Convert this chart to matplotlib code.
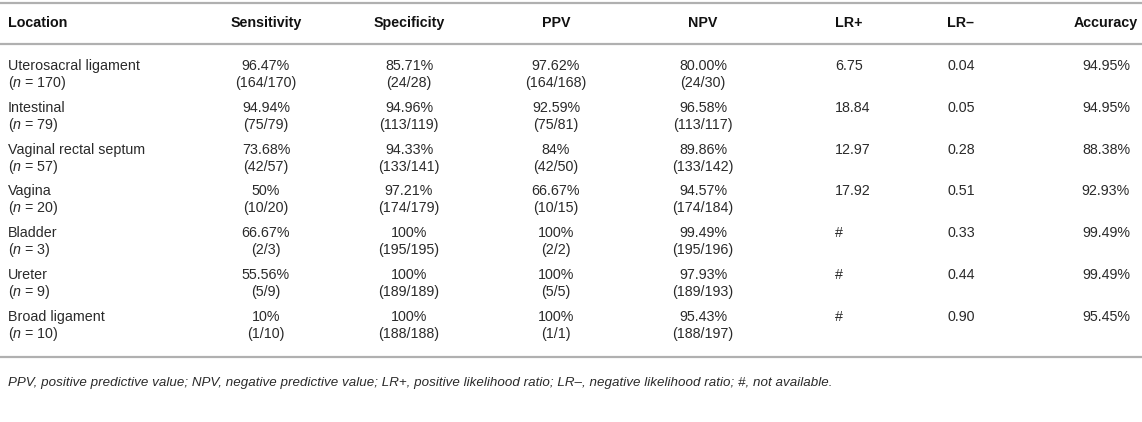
import matplotlib
matplotlib.use("Agg")
import matplotlib.pyplot as plt

plt.rcParams['font.family'] = ['Liberation Sans', 'DejaVu Sans']
plt.rcParams['mathtext.fontset'] = 'custom'
plt.rcParams['mathtext.rm'] = 'Liberation Sans'
plt.rcParams['mathtext.it'] = 'Liberation Sans:italic'

# ---- data ----
headers = ["Location", "Sensitivity", "Specificity", "PPV", "NPV", "LR+", "LR\u2013", "Accuracy"]
locations = ["Uterosacral ligament", "Intestinal", "Vaginal rectal septum", "Vagina",
             "Bladder", "Ureter", "Broad ligament"]
n_values = [170, 79, 57, 20, 3, 9, 10]
sensitivity = ["96.47%", "94.94%", "73.68%", "50%", "66.67%", "55.56%", "10%"]
sensitivity_frac = ["164/170", "75/79", "42/57", "10/20", "2/3", "5/9", "1/10"]
specificity = ["85.71%", "94.96%", "94.33%", "97.21%", "100%", "100%", "100%"]
specificity_frac = ["24/28", "113/119", "133/141", "174/179", "195/195", "189/189", "188/188"]
ppv = ["97.62%", "92.59%", "84%", "66.67%", "100%", "100%", "100%"]
ppv_frac = ["164/168", "75/81", "42/50", "10/15", "2/2", "5/5", "1/1"]
npv = ["80.00%", "96.58%", "89.86%", "94.57%", "99.49%", "97.93%", "95.43%"]
npv_frac = ["24/30", "113/117", "133/142", "174/184", "195/196", "189/193", "188/197"]
lr_pos = ["6.75", "18.84", "12.97", "17.92", "#", "#", "#"]
lr_neg = ["0.04", "0.05", "0.28", "0.51", "0.33", "0.44", "0.90"]
accuracy = ["94.95%", "94.95%", "88.38%", "92.93%", "99.49%", "99.49%", "95.45%"]
footnote = ("PPV, positive predictive value; NPV, negative predictive value; "
            "LR+, positive likelihood ratio; LR\u2013, negative likelihood ratio; #, not available.")

# ---- layout ----
W, H = 1142, 422
fig = plt.figure(figsize=(W / 100, H / 100), dpi=100)
ax = fig.add_axes([0, 0, 1, 1])
ax.set_xlim(0, W)
ax.set_ylim(H, 0)
ax.axis('off')

fs = 10.3
txt = '#2a2a2a'
line_c = '#b0b0b0'

# columns: (x, ha)
cols = [(8, 'left'), (266, 'center'), (409, 'center'), (556, 'center'),
        (703, 'center'), (835, 'left'), (947, 'left'), (1106, 'center')]

header_y = 23
for (x, ha), h in zip(cols, headers):
    ax.text(x, header_y, h, ha=ha, va='center', fontsize=fs, fontweight='bold', color='#111111')

for y in (3, 44, 357):
    ax.plot([0, W], [y, y], color=line_c, lw=1.6, solid_capstyle='butt')

row0 = 66
pitch = 41.8
sub = 17
for i in range(len(locations)):
    y1 = row0 + i * pitch
    y2 = y1 + sub
    ax.text(cols[0][0], y1, locations[i], ha='left', va='center', fontsize=fs, color=txt)
    ax.text(cols[0][0], y2, r"($\mathit{n}$ = %d)" % n_values[i], ha='left', va='center',
            fontsize=fs, color=txt)
    pairs = [(sensitivity, sensitivity_frac), (specificity, specificity_frac),
             (ppv, ppv_frac), (npv, npv_frac)]
    for (x, ha), (v, fr) in zip(cols[1:5], pairs):
        ax.text(x, y1, v[i], ha=ha, va='center', fontsize=fs, color=txt)
        ax.text(x, y2, "(%s)" % fr[i], ha=ha, va='center', fontsize=fs, color=txt)
    ax.text(cols[5][0], y1, lr_pos[i], ha=cols[5][1], va='center', fontsize=fs, color=txt)
    ax.text(cols[6][0], y1, lr_neg[i], ha=cols[6][1], va='center', fontsize=fs, color=txt)
    ax.text(cols[7][0], y1, accuracy[i], ha=cols[7][1], va='center', fontsize=fs, color=txt)

ax.text(8, 383, footnote, ha='left', va='center', fontsize=9.65, style='italic', color=txt)

fig.savefig("out.png", dpi=100)
